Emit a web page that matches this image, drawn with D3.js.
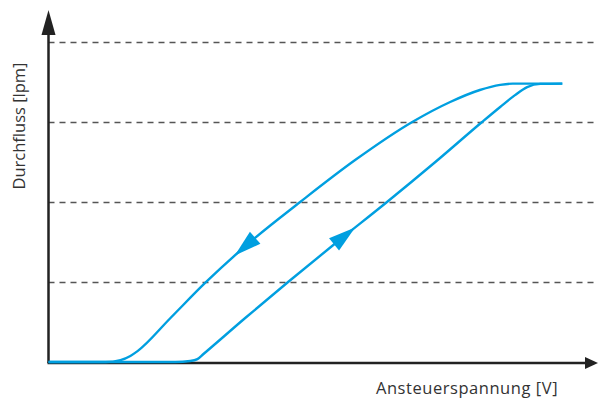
<!DOCTYPE html>
<html lang="de">
<head>
<meta charset="utf-8">
<title>Durchfluss / Ansteuerspannung</title>
<script src="https://cdn.jsdelivr.net/npm/d3@7"></script>
<style>
  body { margin: 0; background: #fff; }
  svg { display: block; }
  .lbl { font-family: "Open Sans", "Noto Sans", sans-serif; font-size: 16.5px; fill: #333; }
</style>
</head>
<body>
<div id="chart"></div>
<script>
// voltage in V (0..10), flow in % of max
const gridValues = [25, 50, 75, 100];

const downX = [0, 1.04, 1.31, 1.49, 1.62, 2.22, 2.85, 3.67, 4.58, 5.58, 6.62, 7.31, 7.85, 8.22, 8.45, 9.35];
const downY = [0, 0, 0.6, 1.9, 3.4, 13.75, 24.7, 37.5, 50, 63.1, 75, 81.25, 85, 86.6, 87.0, 87.0];

const upX = [0, 2.31, 2.58, 2.71, 2.82, 3.58, 4.36, 5.25, 6.16, 7.04, 7.89, 8.22, 8.49, 8.71, 8.95, 9.35];
const upY = [0, 0, 0.3, 0.9, 2.5, 13.75, 25, 37.5, 50, 62.5, 75, 79.7, 83.4, 85.9, 86.9, 87.0];

// where the direction arrows sit (tip x in V) and which way they point
const arrowSeries = ["down", "up"];
const arrowTipX = [3.39, 5.58];
const arrowDir = [-1, 1];

const W = 598, H = 398;
const x = d3.scaleLinear().domain([0, 10]).range([48.5, 598]);
const y = d3.scaleLinear().domain([0, 100]).range([362, 42]);

const svg = d3.select("#chart").append("svg")
  .attr("width", W).attr("height", H);

// dashed grid lines
svg.append("g")
  .attr("transform", "translate(" + x(0) + ",0)")
  .call(d3.axisLeft(y).tickValues(gridValues).tickSize(-(W - x(0))).tickFormat(""))
  .call(g => g.select(".domain").remove())
  .selectAll("line")
    .attr("stroke", "#555")
    .attr("stroke-width", 1.3)
    .attr("stroke-dasharray", "6,5");

const blue = "#009fe0";
const line = d3.line()
  .x(d => x(d[0]))
  .y(d => y(d[1]))
  .curve(d3.curveMonotoneX);

const series = {
  down: d3.zip(downX, downY),
  up: d3.zip(upX, upY)
};

// axes
const axisColor = "#222";
svg.append("line")
  .attr("x1", x(0)).attr("x2", x(0))
  .attr("y1", y(0) + 1).attr("y2", 30)
  .attr("stroke", axisColor).attr("stroke-width", 2.5);
svg.append("path")
  .attr("d", `M${x(0) - 7},35 L${x(0)},10 L${x(0) + 7},35 Z`)
  .attr("fill", axisColor);

svg.append("line")
  .attr("x1", x(0) - 1).attr("x2", 588)
  .attr("y1", y(0) + 1).attr("y2", y(0) + 1)
  .attr("stroke", axisColor).attr("stroke-width", 2.5);
svg.append("path")
  .attr("d", `M585,${y(0) + 1 - 6} L598,${y(0) + 1} L585,${y(0) + 1 + 6} Z`)
  .attr("fill", axisColor);

// curves
const paths = {};
Object.keys(series).forEach(k => {
  paths[k] = svg.append("path")
    .datum(series[k])
    .attr("d", line)
    .attr("fill", "none")
    .attr("stroke", blue)
    .attr("stroke-width", 2.4)
    .node();
});

// find the point on a path at a given pixel x
function pointAtX(p, px) {
  let lo = 0, hi = p.getTotalLength();
  for (let i = 0; i < 40; i++) {
    const mid = (lo + hi) / 2;
    if (p.getPointAtLength(mid).x < px) lo = mid; else hi = mid;
  }
  return lo;
}

arrowSeries.forEach((k, i) => {
  const p = paths[k];
  const L = pointAtX(p, x(arrowTipX[i]));
  const tip = p.getPointAtLength(L);
  const back = p.getPointAtLength(L - arrowDir[i] * 26);
  const ang = Math.atan2(tip.y - back.y, tip.x - back.x) * 180 / Math.PI;
  svg.append("path")
    .attr("d", "M0,0 L-27,-8 L-27,8 Z")
    .attr("fill", blue)
    .attr("transform", `translate(${tip.x},${tip.y}) rotate(${ang})`);
});

// axis titles
svg.append("text")
  .attr("class", "lbl")
  .attr("transform", "translate(25,126) rotate(-90)")
  .attr("text-anchor", "middle")
  .text("Durchfluss [lpm]");

svg.append("text")
  .attr("class", "lbl")
  .attr("x", 467).attr("y", 394)
  .attr("text-anchor", "middle")
  .attr("letter-spacing", 0.55)
  .text("Ansteuerspannung [V]");
</script>
</body>
</html>
